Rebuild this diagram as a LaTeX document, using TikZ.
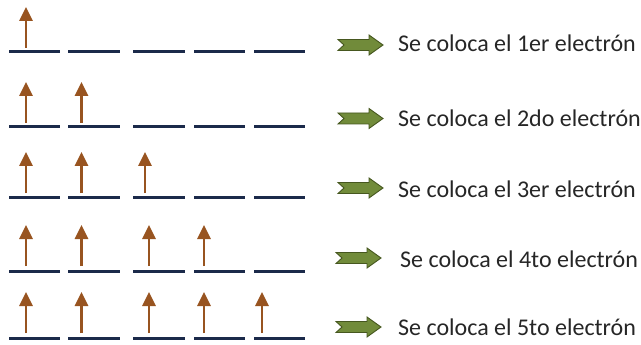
\documentclass[tikz,border=0pt]{standalone}
\usepackage{fontspec}
\setmainfont{Carlito}
\usetikzlibrary{arrows.meta}
\definecolor{levelblue}{HTML}{1B2A4A}
\definecolor{spin}{HTML}{985420}
\definecolor{olive}{HTML}{718B3A}
\definecolor{olivedark}{HTML}{46571F}
\tikzset{
  levelline/.style={levelblue, line width=3pt},
  spinarrow/.style={spin, line width=2.6pt, -{Triangle[width=13pt,length=14pt]}},
  lbl/.style={anchor=base west, font=\fontsize{24}{28}\selectfont, text=black!85, inner sep=0pt},
  blockarrow/.style={fill=olive, draw=olivedark, line width=0.9pt, line join=miter},
  pics/greenarrow/.style={code={
    \draw[blockarrow] (0,-5.5) -- (31,-5.5) -- (31,-10) -- (45,0) -- (31,10) -- (31,5.5) -- (0,5.5) -- (6,0) -- cycle;}}
}
\begin{document}
\begin{tikzpicture}[x=1pt,y=-1pt]
\useasboundingbox (0,0) rectangle (641,345);
% level lines
\foreach \yy in {52,127,197,271,338}{
  \foreach \xa/\xb in {9/60,68/120,133/185,194/245,254/305}{
    \draw[levelline] (\xa,\yy) -- (\xb,\yy);
  }
}
% row 1
\draw[spinarrow] (26,48) -- (26,7);
% row 2
\draw[spinarrow] (26,123) -- (26,82);
\draw[spinarrow] (81.5,123) -- (81.5,82);
% row 3
\draw[spinarrow] (26,193) -- (26,152);
\draw[spinarrow] (81.5,193) -- (81.5,152);
\draw[spinarrow] (145,193) -- (145,152);
% row 4
\draw[spinarrow] (26,266) -- (26,225);
\draw[spinarrow] (81.5,266) -- (81.5,225);
\draw[spinarrow] (149,266) -- (149,225);
\draw[spinarrow] (204,266) -- (204,225);
% row 5
\draw[spinarrow] (26,333) -- (26,292);
\draw[spinarrow] (81.5,333) -- (81.5,292);
\draw[spinarrow] (149,333) -- (149,292);
\draw[spinarrow] (204,333) -- (204,292);
\draw[spinarrow] (262,333) -- (262,292);
% green arrows
\pic at (338,45) {greenarrow};
\pic at (338,118.5) {greenarrow};
\pic at (338,188) {greenarrow};
\pic at (336,258) {greenarrow};
\pic at (336,327) {greenarrow};
% labels
\node[lbl] (t1) at (398,52) {Se coloca el 1er electrón};
\node[lbl] (t2) at (398,127) {Se coloca el 2do electrón};
\node[lbl] (t3) at (398,197) {Se coloca el 3er electrón};
\node[lbl] (t4) at (400,267) {Se coloca el 4to electrón};
\node[lbl] (t5) at (398,335) {Se coloca el 5to electrón};
\end{tikzpicture}
\end{document}
